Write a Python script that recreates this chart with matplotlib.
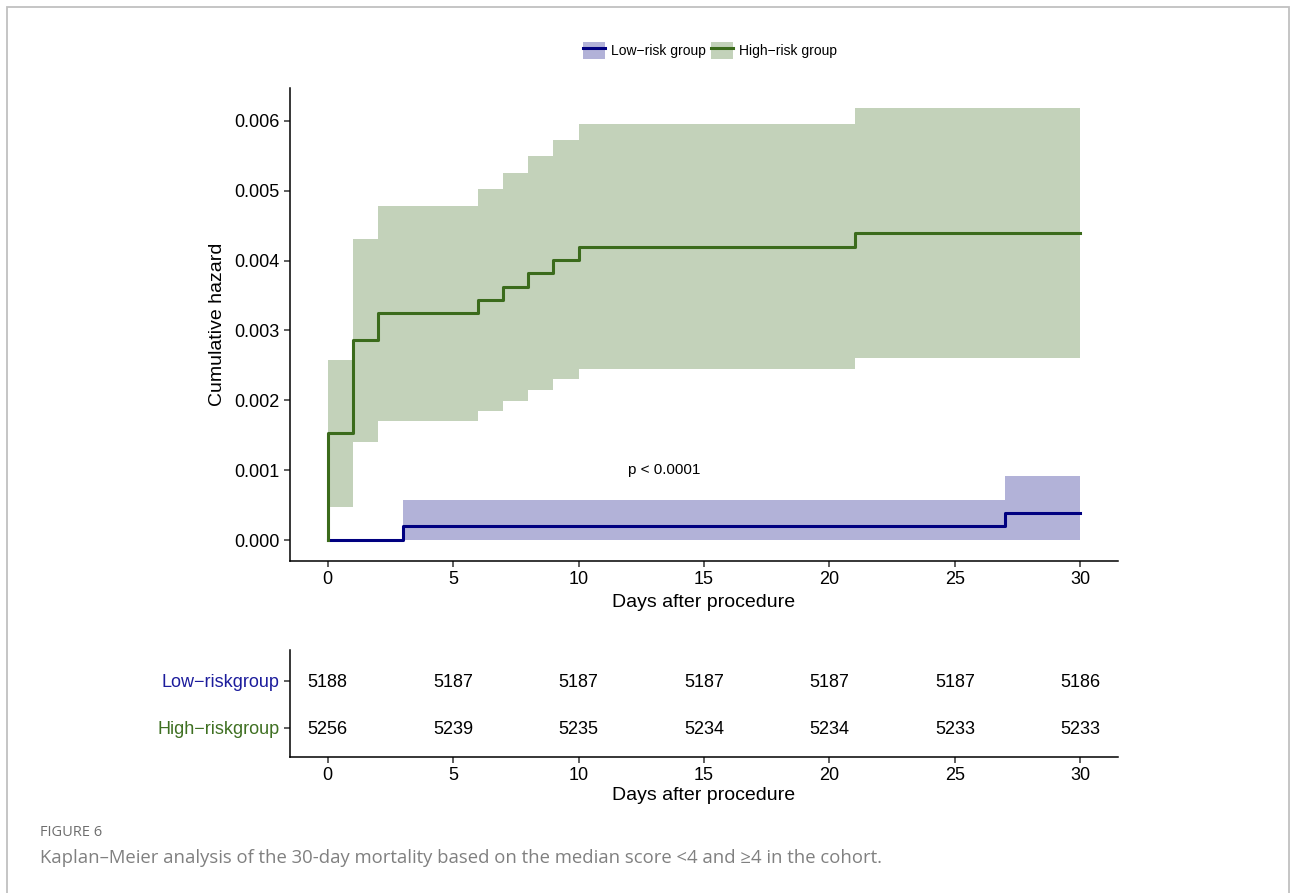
import matplotlib.pyplot as plt
import numpy as np
from matplotlib.patches import Patch, Rectangle
from matplotlib.lines import Line2D

plt.rcParams['font.family'] = ['Liberation Sans', 'DejaVu Sans']

# cumulative hazard, high-risk group (step after each time)
high_t = [0, 0, 1, 2, 6, 7, 8, 9, 10, 21, 30]
high_h = [0, 0.00153, 0.00286, 0.00325, 0.00344, 0.00362, 0.00382, 0.00401, 0.00420, 0.00440, 0.00440]
high_ci_t = [0, 1, 2, 6, 7, 8, 9, 10, 21, 30]
high_lo = [0.00047, 0.00141, 0.00170, 0.00185, 0.00199, 0.00215, 0.00230, 0.00245, 0.00260, 0.00260]
high_hi = [0.00258, 0.00431, 0.00478, 0.00502, 0.00525, 0.00549, 0.00572, 0.00596, 0.00619, 0.00619]

# low-risk group
low_t = [0, 3, 27, 30]
low_h = [0, 0.00020, 0.00039, 0.00039]
low_ci_t = [3, 27, 30]
low_lo = [0, 0, 0]
low_hi = [0.00057, 0.00092, 0.00092]

# numbers at risk
risk_times = [0, 5, 10, 15, 20, 25, 30]
risk_low = [5188, 5187, 5187, 5187, 5187, 5187, 5186]
risk_high = [5256, 5239, 5235, 5234, 5234, 5233, 5233]

low_col = '#000080'
high_col = '#3b6b1c'
txt_low = '#1c1c9c'
txt_high = '#3f7022'

fig = plt.figure(figsize=(12.92, 8.93), dpi=100)

# frame around the figure panel
fig.patches.append(Rectangle((7 / 1292, -0.01), 1282 / 1292, 1 - 7 / 893 + 0.01,
                             transform=fig.transFigure, fill=False,
                             edgecolor='#c0c0c0', linewidth=1.3))

ax = fig.add_axes([290 / 1292, 1 - 561 / 893, 828 / 1292, 473 / 893])
ax.fill_between(high_ci_t, high_lo, high_hi, step='post', color=high_col, alpha=0.3, linewidth=0)
ax.fill_between(low_ci_t, low_lo, low_hi, step='post', color=low_col, alpha=0.3, linewidth=0)
ax.step(low_t, low_h, where='post', color=low_col, linewidth=2.2)
ax.step(high_t, high_h, where='post', color=high_col, linewidth=2.2)

ax.text(13.4, 0.001, 'p < 0.0001', ha='center', va='center', fontsize=11)

ax.set_xlim(-1.5, 31.5)
ax.set_ylim(-0.0003, 0.00647)
ax.set_xticks(risk_times)
ax.set_yticks([0, 0.001, 0.002, 0.003, 0.004, 0.005, 0.006])
ax.set_yticklabels(['0.000', '0.001', '0.002', '0.003', '0.004', '0.005', '0.006'])
ax.tick_params(labelsize=13, length=4, width=1.1, color='#333333')
ax.set_xlabel('Days after procedure', fontsize=14, labelpad=4)
ax.set_ylabel('Cumulative hazard', fontsize=14, labelpad=6)
for s in ['top', 'right']:
    ax.spines[s].set_visible(False)
for s in ['left', 'bottom']:
    ax.spines[s].set_linewidth(1.1)

handles = [(Patch(facecolor=low_col, alpha=0.3, edgecolor='none'),
            Line2D([], [], color=low_col, linewidth=2.2)),
           (Patch(facecolor=high_col, alpha=0.3, edgecolor='none'),
            Line2D([], [], color=high_col, linewidth=2.2))]
ax.legend(handles, ['Low\u2212risk group', 'High\u2212risk group'], loc='center',
          bbox_to_anchor=(0.507, 1.08), ncol=2, frameon=False, fontsize=10,
          handlelength=1.6, handleheight=1.5, columnspacing=0.4, handletextpad=0.4)

# risk table
tab = fig.add_axes([290 / 1292, 1 - 757 / 893, 828 / 1292, 107 / 893])
for t, n in zip(risk_times, risk_low):
    tab.text(t, 1.96, str(n), ha='center', va='center', fontsize=13)
for t, n in zip(risk_times, risk_high):
    tab.text(t, 0.96, str(n), ha='center', va='center', fontsize=13)
tab.set_xlim(-1.5, 31.5)
tab.set_ylim(0.38, 2.66)
tab.set_xticks(risk_times)
tab.set_yticks([1, 2])
tab.set_yticklabels(['High\u2212riskgroup', 'Low\u2212riskgroup'])
tab.get_yticklabels()[0].set_color(txt_high)
tab.get_yticklabels()[1].set_color(txt_low)
tab.tick_params(labelsize=13, length=4, width=1.1, color='#333333')
tab.set_xlabel('Days after procedure', fontsize=14, labelpad=2)
for s in ['top', 'right']:
    tab.spines[s].set_visible(False)
for s in ['left', 'bottom']:
    tab.spines[s].set_linewidth(1.1)

# caption
fig.text(40 / 1292, 1 - 832 / 893, 'FIGURE 6', fontsize=10.5, color='#6e6e6e',
         family=['Open Sans', 'DejaVu Sans'], va='center')
fig.text(40 / 1292, 1 - 858 / 893,
         'Kaplan\u2013Meier analysis of the 30-day mortality based on the median score <4 and \u22654 in the cohort.',
         fontsize=13.3, color='#808080', family=['Open Sans', 'DejaVu Sans'], va='center')

fig.savefig('out.png', dpi=100)
